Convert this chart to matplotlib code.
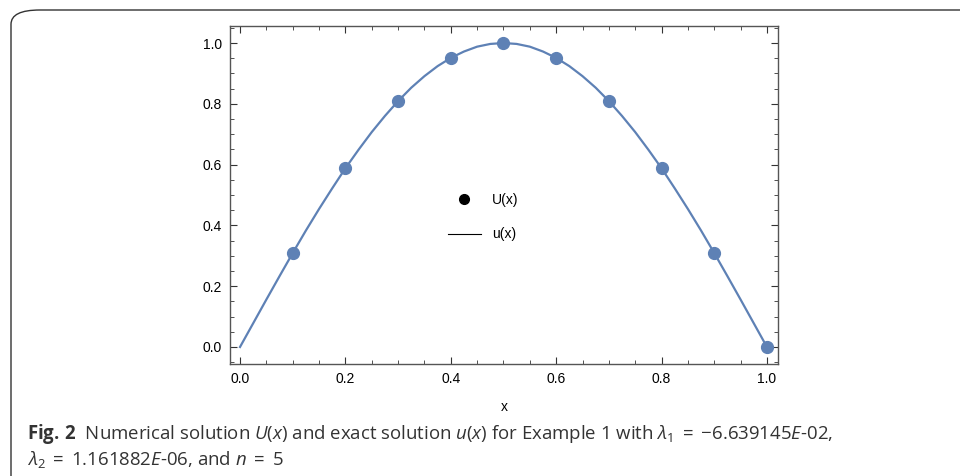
import numpy as np
import matplotlib
matplotlib.use('Agg')
import matplotlib.pyplot as plt
from matplotlib.patches import FancyBboxPatch
from matplotlib.lines import Line2D
from matplotlib.ticker import MultipleLocator

# numerical solution U(x) at the nodes
x_pts = [0.1, 0.2, 0.3, 0.4, 0.5, 0.6, 0.7, 0.8, 0.9, 1.0]
U_pts = [0.309, 0.588, 0.809, 0.951, 1.0, 0.951, 0.809, 0.588, 0.309, 0.0]

# exact solution u(x)
x_line = [0.0, 0.025, 0.05, 0.075, 0.1, 0.125, 0.15, 0.175, 0.2, 0.225,
          0.25, 0.275, 0.3, 0.325, 0.35, 0.375, 0.4, 0.425, 0.45, 0.475,
          0.5, 0.525, 0.55, 0.575, 0.6, 0.625, 0.65, 0.675, 0.7, 0.725,
          0.75, 0.775, 0.8, 0.825, 0.85, 0.875, 0.9, 0.925, 0.95, 0.975, 1.0]
u_line = [0.0, 0.078, 0.156, 0.233, 0.309, 0.383, 0.454, 0.522, 0.588, 0.649,
          0.707, 0.760, 0.809, 0.853, 0.891, 0.924, 0.951, 0.972, 0.988, 0.997,
          1.0, 0.997, 0.988, 0.972, 0.951, 0.924, 0.891, 0.853, 0.809, 0.760,
          0.707, 0.649, 0.588, 0.522, 0.454, 0.383, 0.309, 0.233, 0.156, 0.078, 0.0]

xticks = [0.0, 0.2, 0.4, 0.6, 0.8, 1.0]
yticks = [0.0, 0.2, 0.4, 0.6, 0.8, 1.0]

blue = '#5e81b5'

plt.rcParams['font.family'] = ['Liberation Sans', 'DejaVu Sans']
plt.rcParams['mathtext.fontset'] = 'custom'
plt.rcParams['mathtext.rm'] = 'Open Sans'
plt.rcParams['mathtext.it'] = 'Open Sans:italic'
plt.rcParams['mathtext.bf'] = 'Open Sans:bold'

fig = plt.figure(figsize=(9.6, 4.76), dpi=100)

# rounded frame around the figure box
box = FancyBboxPatch((11 / 960, -0.2), 1.2, 1.2 - 10 / 476,
                     boxstyle='round,pad=0,rounding_size=0.03',
                     transform=fig.transFigure, fill=False,
                     edgecolor='#333333', linewidth=1.0, clip_on=False)
fig.patches.append(box)

ax = fig.add_axes([230 / 960, 1 - 364 / 476, 548 / 960, 338 / 476])
ax.plot(x_line, u_line, color=blue, lw=1.6, zorder=2)
ax.plot(x_pts, U_pts, 'o', color=blue, ms=8.5, zorder=3)

ax.set_xlim(-0.019, 1.021)
ax.set_ylim(-0.056, 1.056)
ax.set_xticks(xticks)
ax.set_yticks(yticks)
ax.set_xticklabels(['%.1f' % v for v in xticks])
ax.set_yticklabels(['%.1f' % v for v in yticks])
ax.xaxis.set_minor_locator(MultipleLocator(0.05))
ax.yaxis.set_minor_locator(MultipleLocator(0.05))
ax.tick_params(which='both', direction='in', top=True, right=True,
               color='#333333', labelsize=10, labelcolor='black')
ax.tick_params(which='major', length=5, width=0.8, pad=6)
ax.tick_params(which='minor', length=3, width=0.6)
for s in ax.spines.values():
    s.set_color('#555555')
    s.set_linewidth(1.0)
ax.set_xlabel('x', fontsize=10, labelpad=10)

handles = [Line2D([], [], marker='o', ls='none', color='black', ms=7),
           Line2D([], [], color='black', lw=0.8)]
ax.legend(handles, ['U(x)', 'u(x)'], frameon=False, fontsize=10,
          loc='center', bbox_to_anchor=(0.462, 0.435), handlelength=2.4,
          labelspacing=1.5, handletextpad=0.8)

cap_color = '#333333'
line1 = (r'$\mathbf{Fig.}\,\mathbf{2}\text{  Numerical solution }U(x)'
         r'\text{ and exact solution }u(x)\text{ for Example 1 with }'
         r'\lambda_1\;=\;{-}6.639145E\text{-02,}$')
line2 = r'$\lambda_2\;=\;1.161882E\text{-06, and }n\;=\;5$'
fig.text(27 / 960, 1 - 439 / 476, line1, fontsize=13.4, color=cap_color, va='baseline')
fig.text(27 / 960, 1 - 465 / 476, line2, fontsize=13.4, color=cap_color, va='baseline')

fig.savefig('out.png', dpi=100)
